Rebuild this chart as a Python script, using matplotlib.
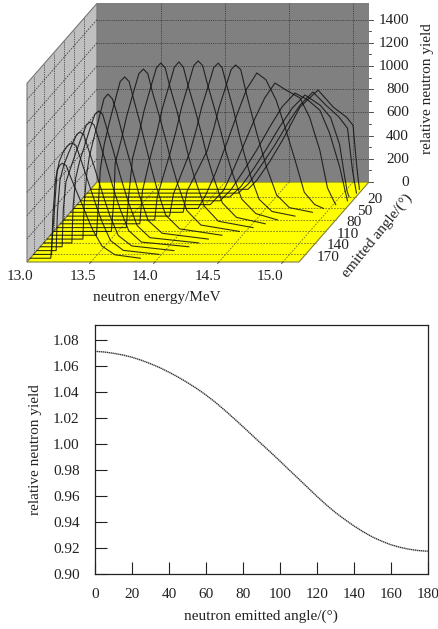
import matplotlib
matplotlib.use('Agg')
import matplotlib.pyplot as plt

plt.rcParams['font.family'] = ['Liberation Serif', 'DejaVu Serif']
plt.rcParams['font.size'] = 11
TEXT = '#222222'

# upper chart: spectra, one E / yield pair per emission angle
angles = list(range(0, 190, 10))

e_000 = [13, 14.23, 14.30, 14.40, 14.50, 14.636, 14.777, 14.895, 15.00, 15.05, 15.08, 15.10]
y_000 = [0, 0, 80, 240, 425, 709, 856, 709, 621, 552, 190, 0]
e_010 = [13, 14.18, 14.263, 14.363, 14.463, 14.563, 14.663, 14.763, 14.863, 14.963, 15.033, 15.073, 15.103]
y_010 = [0, 0, 85, 245, 410, 595, 760, 872, 760, 660, 560, 190, 0]
e_020 = [13, 14.14, 14.227, 14.327, 14.427, 14.527, 14.627, 14.727, 14.847, 14.927, 14.997, 15.037, 15.057, 15.072]
y_020 = [0, 0, 90, 245, 415, 600, 765, 879, 790, 685, 455, 175, 45, 0]
e_030 = [13, 14.09, 14.175, 14.275, 14.375, 14.475, 14.575, 14.675, 14.775, 14.87, 14.945, 15.025, 15.065, 15.085]
y_030 = [0, 0, 95, 260, 435, 630, 810, 929, 870, 780, 585, 290, 95, 0]
e_040 = [13, 14.04, 14.145, 14.225, 14.305, 14.385, 14.465, 14.545, 14.635, 14.74, 14.815, 14.895, 14.955, 15.005, 15.02]
y_040 = [0, 0, 125, 315, 525, 735, 920, 1048, 985, 920, 755, 470, 145, 30, 0]
e_050 = [13, 13.97, 14.03, 14.11, 14.19, 14.27, 14.35, 14.43, 14.50, 14.58, 14.65, 14.73, 14.80, 14.88, 14.95]
y_050 = [0, 0, 115, 315, 550, 795, 1030, 1168, 1110, 935, 700, 410, 140, 35, 0]
e_060 = [13, 13.88, 13.91, 14.07, 14.12, 14.16, 14.212, 14.255, 14.29, 14.33, 14.376, 14.454, 14.53, 14.61, 14.71, 14.89]
y_060 = [0, 0, 180, 535, 725, 900, 1080, 1230, 1270, 1230, 1015, 685, 395, 150, 40, 0]
e_070 = [13, 13.80, 13.83, 13.96, 14.01, 14.05, 14.102, 14.145, 14.18, 14.21, 14.245, 14.295, 14.345, 14.385, 14.43, 14.50, 14.60, 14.78]
y_070 = [0, 0, 190, 555, 750, 935, 1120, 1280, 1319, 1280, 1135, 935, 700, 530, 355, 145, 40, 0]
e_080 = [13, 13.71, 13.73, 13.83, 13.88, 13.92, 13.972, 14.015, 14.05, 14.085, 14.12, 14.175, 14.23, 14.27, 14.315, 14.39, 14.50, 14.67]
y_080 = [0, 0, 200, 575, 780, 970, 1165, 1330, 1371, 1330, 1180, 970, 750, 575, 410, 180, 55, 0]
e_090 = [13, 13.62, 13.64, 13.705, 13.755, 13.795, 13.847, 13.89, 13.925, 13.96, 13.995, 14.05, 14.105, 14.145, 14.19, 14.265, 14.375, 14.60]
y_090 = [0, 0, 280, 590, 795, 990, 1185, 1350, 1395, 1350, 1200, 990, 765, 585, 420, 180, 55, 0]
e_100 = [13, 13.54, 13.56, 13.59, 13.64, 13.68, 13.73, 13.775, 13.81, 13.845, 13.88, 13.935, 13.99, 14.03, 14.075, 14.15, 14.26, 14.53]
y_100 = [0, 0, 280, 600, 810, 1010, 1205, 1375, 1419, 1375, 1220, 1010, 780, 600, 425, 185, 55, 0]
e_110 = [13, 13.45, 13.47, 13.48, 13.53, 13.57, 13.62, 13.665, 13.70, 13.735, 13.77, 13.825, 13.88, 13.92, 13.965, 14.04, 14.15, 14.45]
y_110 = [0, 0, 280, 590, 800, 995, 1190, 1360, 1400, 1360, 1205, 995, 770, 590, 420, 180, 55, 0]
e_120 = [13, 13.36, 13.375, 13.39, 13.42, 13.46, 13.505, 13.545, 13.58, 13.615, 13.65, 13.70, 13.75, 13.79, 13.83, 13.90, 14.01, 14.34]
y_120 = [0, 0, 270, 570, 780, 970, 1160, 1325, 1365, 1325, 1175, 970, 750, 575, 410, 175, 55, 0]
e_130 = [13, 13.28, 13.29, 13.31, 13.33, 13.37, 13.41, 13.445, 13.475, 13.51, 13.545, 13.59, 13.635, 13.68, 13.72, 13.79, 13.90, 14.26]
y_130 = [0, 0, 300, 560, 710, 890, 1060, 1210, 1250, 1210, 1090, 900, 720, 540, 380, 160, 50, 0]
e_140 = [13, 13.22, 13.23, 13.25, 13.28, 13.32, 13.36, 13.40, 13.43, 13.46, 13.495, 13.54, 13.585, 13.625, 13.665, 13.73, 13.83, 14.21]
y_140 = [0, 0, 320, 560, 700, 840, 980, 1110, 1138, 1110, 980, 810, 630, 480, 340, 150, 45, 0]
e_150 = [13, 13.17, 13.18, 13.20, 13.24, 13.28, 13.32, 13.36, 13.39, 13.42, 13.455, 13.50, 13.545, 13.585, 13.625, 13.69, 13.79, 14.16]
y_150 = [0, 0, 330, 560, 690, 820, 940, 1050, 1076, 1050, 930, 770, 600, 450, 320, 140, 40, 0]
e_160 = [13, 13.15, 13.16, 13.18, 13.21, 13.25, 13.28, 13.31, 13.335, 13.365, 13.40, 13.445, 13.49, 13.53, 13.57, 13.635, 13.74, 14.07]
y_160 = [0, 0, 340, 610, 740, 850, 930, 1000, 1022, 1000, 880, 730, 570, 430, 300, 130, 40, 0]
e_170 = [13, 13.14, 13.15, 13.17, 13.20, 13.23, 13.26, 13.28, 13.30, 13.33, 13.365, 13.41, 13.455, 13.495, 13.535, 13.60, 13.70, 13.98]
y_170 = [0, 0, 330, 640, 800, 880, 930, 950, 960, 940, 830, 680, 530, 400, 280, 120, 35, 0]
e_180 = [13, 13.16, 13.175, 13.19, 13.21, 13.23, 13.25, 13.28, 13.315, 13.36, 13.41, 13.45, 13.49, 13.56, 13.66, 13.86]
y_180 = [0, 0, 220, 440, 759, 800, 819, 800, 700, 580, 450, 340, 240, 105, 30, 0]

spectra_e = [e_000, e_010, e_020, e_030, e_040, e_050, e_060, e_070, e_080, e_090,
             e_100, e_110, e_120, e_130, e_140, e_150, e_160, e_170, e_180]
spectra_y = [y_000, y_010, y_020, y_030, y_040, y_050, y_060, y_070, y_080, y_090,
             y_100, y_110, y_120, y_130, y_140, y_150, y_160, y_170, y_180]

energy_ticks = [13.0, 13.5, 14.0, 14.5, 15.0]
angle_ticks = [20, 50, 80, 110, 140, 170]
yield_ticks = [0, 200, 400, 600, 800, 1000, 1200, 1400]

# lower chart
emit_angle = list(range(0, 185, 5))
emit_yield = [1.071, 1.0705, 1.0695, 1.0682, 1.0665, 1.0642, 1.0615, 1.0585, 1.0550, 1.0512,
              1.0470, 1.0425, 1.0375, 1.0320, 1.0260, 1.0197, 1.0132, 1.0066, 1.0000, 0.9935,
              0.9868, 0.9800, 0.9733, 0.9665, 0.9597, 0.9533, 0.9473, 0.9420, 0.9370, 0.9325,
              0.9285, 0.9253, 0.9225, 0.9205, 0.9190, 0.9180, 0.9175]
x_ticks = list(range(0, 200, 20))
y_ticks = [0.90, 0.92, 0.94, 0.96, 0.98, 1.00, 1.02, 1.04, 1.06, 1.08]

# oblique projection of the 3D box to figure pixels
E_MIN, E_MAX = 13.0, 15.125
A_BACK, A_FRONT = -18.8, 189.8
Z_TOP = 1540


def project(e, a, z=0):
    floor_y = 189.3 + 0.383 * a
    x = 27 + (262 - floor_y) * 0.875 + 128 * (e - 13.0)
    return x, floor_y - z * 0.116


def poly(corners, **kw):
    pts = [project(*c) for c in corners]
    box.fill([p[0] for p in pts], [p[1] for p in pts], **kw)


def seg(p0, p1, **kw):
    a = project(*p0)
    b = project(*p1)
    box.plot([a[0], b[0]], [a[1], b[1]], **kw)


fig = plt.figure(figsize=(4.38, 6.29), dpi=100)

box = fig.add_axes([0, 0, 1, 1])
box.set_xlim(0, 438)
box.set_ylim(629, 0)
box.axis('off')

poly([(E_MIN, A_BACK, 0), (E_MAX, A_BACK, 0), (E_MAX, A_BACK, Z_TOP), (E_MIN, A_BACK, Z_TOP)],
     color='#808080', lw=0)
poly([(E_MIN, A_BACK, 0), (E_MIN, A_FRONT, 0), (E_MIN, A_FRONT, Z_TOP), (E_MIN, A_BACK, Z_TOP)],
     facecolor='#c0c0c0', edgecolor='#777777', lw=0.8)
poly([(E_MIN, A_BACK, 0), (E_MAX, A_BACK, 0), (E_MAX, A_FRONT, 0), (E_MIN, A_FRONT, 0)],
     facecolor='#ffff00', edgecolor='#808040', lw=0.8)

# grids on the three faces
wall_grid = dict(color='#333333', lw=0.6, ls=(0, (1, 1.2)))
side_grid = dict(color='#444444', lw=0.6, ls=(0, (2, 1.5)))
floor_grid = dict(color='#77771a', lw=0.6, ls=(0, (2, 1.5)))
for z in yield_ticks[1:]:
    seg((E_MIN, A_BACK, z), (E_MAX, A_BACK, z), **wall_grid)
    seg((E_MIN, A_BACK, z), (E_MIN, A_FRONT, z), **side_grid)
for e in energy_ticks[1:]:
    seg((e, A_BACK, 0), (e, A_BACK, Z_TOP), **wall_grid)
    seg((e, A_BACK, 0), (e, A_FRONT, 0), **floor_grid)
    seg((e, A_FRONT, 0), (e, A_FRONT + 4, 0), color='#444444', lw=0.6)
for a in angle_ticks:
    seg((E_MIN, a, 0), (E_MAX, a, 0), **floor_grid)
    seg((E_MIN, a, 0), (E_MIN, a, Z_TOP), **wall_grid)

# spectra, back to front
for a, es, ys in zip(angles, spectra_e, spectra_y):
    pts = [project(e, a, v) for e, v in zip(es, ys)]
    box.plot([p[0] for p in pts], [p[1] for p in pts], color='#111111', lw=0.8, alpha=0.85,
             solid_joinstyle='round')

# yield axis on the right edge of the wall
for z in range(0, 1500, 100):
    x, y = project(E_MAX, A_BACK, z)
    box.plot([x, x + (4 if z % 200 == 0 else 2)], [y, y], color='#333333', lw=0.6)
for z in yield_ticks:
    x, y = project(E_MAX, A_BACK, z)
    box.text(409, y + 0.5, str(z), ha='right', va='center', color=TEXT)

for e in energy_ticks:
    x, y = project(e, A_FRONT)
    box.text(x - 7 - (e - 13.0) * 3, 276, f'{e:.1f}', ha='center', va='center', color=TEXT)
for a in angle_ticks:
    x, y = project(E_MAX, a)
    box.text(x + 11, y + 3, str(a), ha='left', va='center', color=TEXT)

box.text(157, 298, 'neutron energy/MeV', ha='center', va='center', color=TEXT)
box.text(377, 236, 'emitted angle/(°)', ha='center', va='center', rotation=51,
         rotation_mode='anchor', color=TEXT)
box.text(428, 89, 'relative neutron yield', ha='center', va='center', rotation=90, color=TEXT)

# lower chart
ax = fig.add_axes([95 / 438, 1 - 574 / 629, (427.7 - 95) / 438, (574 - 325.3) / 629])
ax.plot(emit_angle, emit_yield, color='#333333', lw=1.0, ls=(0, (1, 0.4)))
ax.set_xlim(0, 180)
ax.set_ylim(0.90, 1.091)
ax.set_xticks(x_ticks)
ax.set_yticks(y_ticks)
ax.set_yticklabels([f'{v:.2f}' for v in y_ticks])
ax.tick_params(direction='in', length=8.5, width=0.8, color='#222222', labelcolor=TEXT)
ax.tick_params(axis='x', pad=10)
ax.tick_params(axis='y', pad=11)
ax.set_xlabel('neutron emitted angle/(°)', color=TEXT, labelpad=6)
ax.set_ylabel('relative neutron yield', color=TEXT, labelpad=8)
for s in ax.spines.values():
    s.set_linewidth(0.9)
    s.set_color('#222222')

plt.savefig('out.png', dpi=100)
